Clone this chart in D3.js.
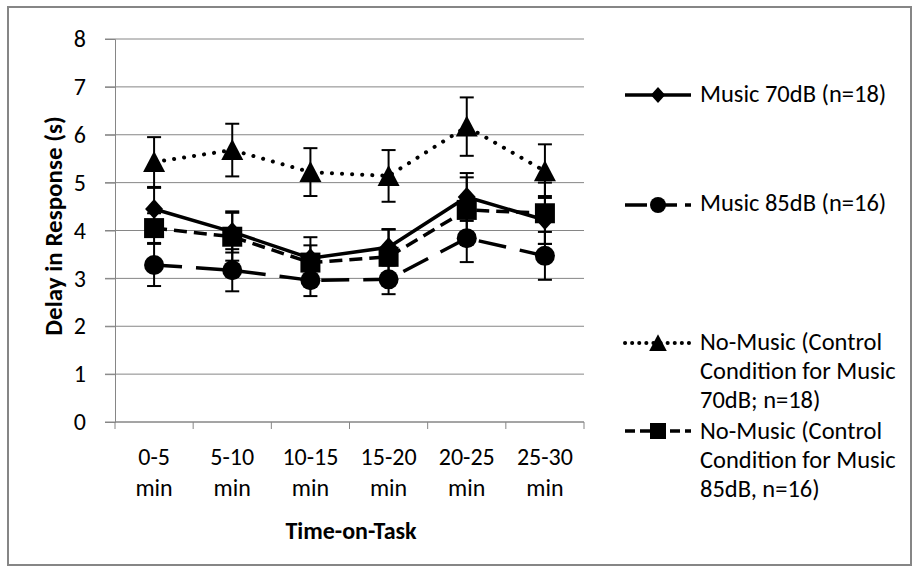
<!DOCTYPE html>
<html>
<head>
<meta charset="utf-8">
<script src="https://cdn.jsdelivr.net/npm/d3@7"></script>
<style>
  body { margin: 0; background: #fff; }
  text { font-family: Carlito, Lato, "Open Sans", sans-serif; fill: #000; }
</style>
</head>
<body>
<div id="chart"></div>
<script>
// values
var categories = ["0-5 min", "5-10 min", "10-15 min", "15-20 min", "20-25 min", "25-30 min"]
var yTicks = [0, 1, 2, 3, 4, 5, 6, 7, 8]

var music70 = [4.45, 3.97, 3.42, 3.65, 4.70, 4.22]
var music70Err = [0.44, 0.43, 0.44, 0.38, 0.50, 0.50]
var music85 = [3.28, 3.17, 2.96, 2.98, 3.84, 3.47]
var music85Err = [0.44, 0.44, 0.33, 0.31, 0.50, 0.50]
var noMusic70 = [5.43, 5.68, 5.22, 5.14, 6.17, 5.24]
var noMusic70Err = [0.52, 0.55, 0.50, 0.54, 0.61, 0.56]
var noMusic85 = [4.05, 3.87, 3.33, 3.45, 4.43, 4.36]
var noMusic85Err = [0.31, 0.50, 0.36, 0.57, 0.68, 0.64]

var seriesNames = [
    ["Music 70dB (n=18)"],
    ["Music 85dB (n=16)"],
    ["No-Music (Control", "Condition for Music", "70dB; n=18)"],
    ["No-Music (Control", "Condition for Music", "85dB, n=16)"]
]

var series = [
    { name: seriesNames[0], values: music70, err: music70Err, marker: "diamond", dash: null, legendDash: null },
    { name: seriesNames[1], values: music85, err: music85Err, marker: "circle", dash: "28 14", legendDash: "22 8" },
    { name: seriesNames[2], values: noMusic70, err: noMusic70Err, marker: "triangle", dash: "0.1 10", legendDash: "0.1 7" },
    { name: seriesNames[3], values: noMusic85, err: noMusic85Err, marker: "square", dash: "13 7", legendDash: "10 5" }
]

var width = 920
var height = 573
var plot = { left: 115, right: 584, top: 39, bottom: 422 }

var svg = d3.select("#chart")
    .append("svg")
    .attr("width", width)
    .attr("height", height)

// chart frame
svg.append("rect")
    .attr("x", 8).attr("y", 7)
    .attr("width", 903).attr("height", 558)
    .attr("fill", "none")
    .attr("stroke", "#868686")
    .attr("stroke-width", 2)

var x = d3.scaleBand()
    .domain(categories)
    .range([plot.left, plot.right])

var y = d3.scaleLinear()
    .domain([0, 8])
    .range([plot.bottom, plot.top])

// gridlines
svg.append("g")
    .selectAll("line")
    .data(yTicks)
    .enter()
    .append("line")
    .attr("x1", plot.left - 10)
    .attr("x2", plot.right)
    .attr("y1", function (d) { return y(d) })
    .attr("y2", function (d) { return y(d) })
    .attr("stroke", "#868686")
    .attr("stroke-width", 1)

// y axis
var yAxis = svg.append("g")
    .attr("transform", "translate(" + plot.left + ",0)")
    .call(d3.axisLeft(y).tickValues(yTicks).tickSize(10).tickPadding(19))
yAxis.select(".domain").attr("stroke", "#868686")
yAxis.selectAll(".tick line").attr("stroke", "#868686")
yAxis.selectAll("text")
    .style("font-size", "24px")
    .attr("fill", "#000")

// x axis, ticks between categories
var xAxis = svg.append("g")
    .attr("transform", "translate(0," + plot.bottom + ")")
xAxis.append("line")
    .attr("x1", plot.left).attr("x2", plot.right)
    .attr("stroke", "#868686")
var bounds = categories.map(function (c) { return x(c) }).concat([plot.right])
xAxis.selectAll(".xt")
    .data(bounds)
    .enter()
    .append("line")
    .attr("x1", function (d) { return d })
    .attr("x2", function (d) { return d })
    .attr("y1", 0).attr("y2", 7)
    .attr("stroke", "#868686")

var xLabels = xAxis.selectAll(".xl")
    .data(categories)
    .enter()
    .append("text")
    .attr("text-anchor", "middle")
    .style("font-size", "24px")
xLabels.each(function (c) {
    var parts = c.split(" ")
    var t = d3.select(this)
    parts.forEach(function (p, i) {
        t.append("tspan")
            .attr("x", x(c) + x.bandwidth() / 2)
            .attr("y", 43 + i * 31)
            .text(p)
    })
})

// axis titles
svg.append("text")
    .attr("x", 351).attr("y", 539)
    .attr("text-anchor", "middle")
    .style("font-size", "24px")
    .style("font-weight", "bold")
    .text("Time-on-Task")

svg.append("text")
    .attr("transform", "translate(62,226) rotate(-90)")
    .attr("text-anchor", "middle")
    .style("font-size", "25px")
    .style("font-weight", "bold")
    .text("Delay in Response (s)")

function cx(i) { return x(categories[i]) + x.bandwidth() / 2 }

function drawMarker(g, type, px, py, s) {
    if (type == "circle") {
        g.append("circle").attr("cx", px).attr("cy", py).attr("r", 10 * s)
    } else if (type == "square") {
        g.append("rect").attr("x", px - 10 * s).attr("y", py - 10 * s)
            .attr("width", 20 * s).attr("height", 20 * s)
    } else if (type == "triangle") {
        g.append("path").attr("d",
            "M" + px + "," + (py - 11 * s) + "L" + (px + 11 * s) + "," + (py + 10 * s) + "L" + (px - 11 * s) + "," + (py + 10 * s) + "Z")
    } else if (type == "diamond") {
        g.append("path").attr("d",
            "M" + px + "," + (py - 10 * s) + "L" + (px + 9 * s) + "," + py + "L" + px + "," + (py + 10 * s) + "L" + (px - 9 * s) + "," + py + "Z")
    }
}

// error bars
series.forEach(function (s) {
    var g = svg.append("g").attr("stroke", "#000").attr("stroke-width", 2)
    s.values.forEach(function (v, i) {
        var top = y(v + s.err[i]), bot = y(v - s.err[i]), px = cx(i)
        g.append("line").attr("x1", px).attr("x2", px).attr("y1", top).attr("y2", bot)
        g.append("line").attr("x1", px - 7).attr("x2", px + 7).attr("y1", top).attr("y2", top)
        g.append("line").attr("x1", px - 7).attr("x2", px + 7).attr("y1", bot).attr("y2", bot)
    })
})

var line = d3.line()
    .x(function (d, i) { return cx(i) })
    .y(function (d) { return y(d) })

// lines and markers
series.forEach(function (s) {
    svg.append("path")
        .datum(s.values)
        .attr("d", line)
        .attr("fill", "none")
        .attr("stroke", "#000")
        .attr("stroke-width", s.marker == "triangle" ? 4 : 3.5)
        .attr("stroke-linecap", s.marker == "triangle" ? "round" : "butt")
        .attr("stroke-dasharray", s.dash)
    var g = svg.append("g").attr("fill", "#000")
    s.values.forEach(function (v, i) { drawMarker(g, s.marker, cx(i), y(v), 1) })
})

// legend
var legendBase = [102, 211, 350, 439]
var legendLine = [95, 205, 343, 431]
series.forEach(function (s, k) {
    var g = svg.append("g")
    g.append("line")
        .attr("x1", 625).attr("x2", 691)
        .attr("y1", legendLine[k]).attr("y2", legendLine[k])
        .attr("stroke", "#000")
        .attr("stroke-width", s.marker == "triangle" ? 4 : 3.5)
        .attr("stroke-linecap", s.marker == "triangle" ? "round" : "butt")
        .attr("stroke-dasharray", s.legendDash)
    var mg = g.append("g").attr("fill", "#000")
    drawMarker(mg, s.marker, 658, legendLine[k], 0.8)
    var t = g.append("text").style("font-size", "24.5px")
    s.name.forEach(function (n, j) {
        t.append("tspan").attr("x", 700).attr("y", legendBase[k] + j * 29).text(n)
    })
})
</script>
</body>
</html>
